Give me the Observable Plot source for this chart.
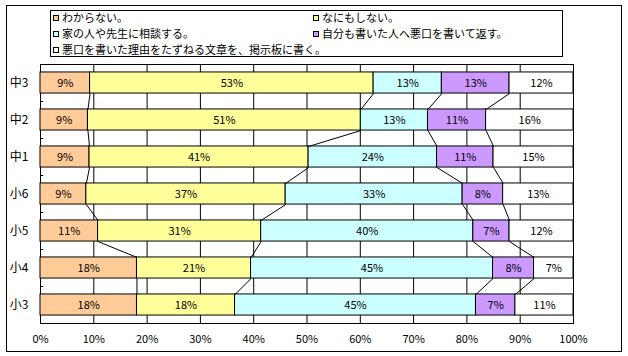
<!DOCTYPE html>
<html><head><meta charset="utf-8">
<script src="https://cdn.jsdelivr.net/npm/d3@7"></script>
<script src="https://cdn.jsdelivr.net/npm/@observablehq/plot@0.6"></script>
<style>
body{margin:0;background:#fff;font-family:"Noto Sans CJK JP",sans-serif;}
#wrap{position:relative;width:628px;height:356px;overflow:hidden;}
#wrap svg{position:absolute;left:0;top:0;}
#outer{position:absolute;left:6px;top:5px;width:614px;height:345px;border:1px solid #000;pointer-events:none;}
#legend{position:absolute;left:50px;top:10px;width:511px;height:45px;border:1px solid #000;background:#fff;font-size:11px;color:#000;}
.item{position:absolute;display:flex;align-items:center;white-space:nowrap;height:14px;line-height:14px;}
.sw{width:4px;height:4px;border:1px solid #000;margin-right:3px;margin-top:2px;flex:none;}
</style></head>
<body>
<div id="wrap"><div id="legend"></div><div id="outer"></div></div>
<script>
const categories = ["中3", "中2", "中1", "小6", "小5", "小4", "小3"];
const seriesNames = [
  "わからない。",
  "なにもしない。",
  "家の人や先生に相談する。",
  "自分も書いた人へ悪口を書いて返す。",
  "悪口を書いた理由をたずねる文章を、掲示板に書く。"
];
const wakaranai = [9.3, 8.9, 9.2, 8.6, 10.8, 18.1, 18.1];
const nanimoShinai = [53.2, 51.2, 41.1, 37.4, 30.6, 21.4, 18.4];
const soudan = [12.8, 12.6, 24.1, 33.2, 39.8, 45.4, 45.2];
const kakiKaesu = [12.7, 10.9, 10.6, 7.6, 6.8, 7.7, 7.4];
const tazuneru = [12.0, 16.4, 15.0, 13.2, 12.0, 7.4, 10.9];
const colors = ["#FFCC99", "#FFFF99", "#CCFFFF", "#CC99FF", "#FFFFFF"];
const xTicks = [0, 10, 20, 30, 40, 50, 60, 70, 80, 90, 100];

const seriesValues = [wakaranai, nanimoShinai, soudan, kakiKaesu, tazuneru];
const HB = 0.285;
const rows = [];
categories.forEach((c, i) => {
  let acc = 0;
  seriesValues.forEach((vals, k) => {
    const v = vals[i];
    rows.push({i, cat: c, k, series: seriesNames[k], value: v, x1: acc, x2: acc + v});
    acc += v;
  });
});
const links = [];
for (let i = 0; i < categories.length - 1; i++) {
  for (let k = 0; k < seriesNames.length - 1; k++) {
    const a = rows.find(r => r.i === i && r.k === k);
    const b = rows.find(r => r.i === i + 1 && r.k === k);
    links.push({x1: a.x2, y1: i + HB, x2: b.x2, y2: i + 1 - HB});
  }
}

const chart = Plot.plot({
  width: 628, height: 356,
  marginLeft: 40, marginRight: 55, marginTop: 64, marginBottom: 33,
  style: {fontFamily: '"Noto Sans CJK JP", sans-serif', fontSize: "11px", color: "#000", background: "transparent", overflow: "visible"},
  x: {domain: [0, 100]},
  y: {domain: [-0.5, categories.length - 0.5], reverse: true},
  color: {domain: seriesNames, range: colors},
  marks: [
    Plot.gridX(xTicks, {stroke: "#000", strokeOpacity: 1}),
    Plot.ruleY(d3.range(categories.length - 1).map(i => i + 0.5), {x1: 0, x2: 0.6, stroke: "#000"}),
    Plot.frame({stroke: "#000"}),
    Plot.rectX(rows, {x1: "x1", x2: "x2", y1: d => d.i - HB, y2: d => d.i + HB, fill: "series", stroke: "#000", strokeWidth: 1}),
    Plot.link(links, {x1: "x1", y1: "y1", x2: "x2", y2: "y2", stroke: "#000", strokeWidth: 1}),
    Plot.text(rows, {x: d => (d.x1 + d.x2) / 2, y: "i", text: d => Math.round(d.value) + "%", fill: "#000", letterSpacing: "0.5px"}),
    Plot.axisX({ticks: xTicks, tickFormat: d => d + "%", tickSize: 0, tickPadding: 12, label: null, letterSpacing: "0.5px"}),
    Plot.axisY({ticks: d3.range(categories.length), tickFormat: i => categories[i], tickSize: 0, tickPadding: 12, label: null, fontSize: 12})
  ]
});
document.getElementById("wrap").prepend(chart);

const legend = document.getElementById("legend");
const pos = [[2, 0], [262, 0], [2, 1], [262, 1], [2, 2]];
seriesNames.forEach((name, k) => {
  const it = document.createElement("div");
  it.className = "item";
  it.style.left = pos[k][0] + "px";
  it.style.top = (-1 + pos[k][1] * 16.2) + "px";
  const sw = document.createElement("span");
  sw.className = "sw";
  sw.style.background = colors[k];
  const t = document.createElement("span");
  t.textContent = name;
  it.append(sw, t);
  legend.append(it);
});
</script>
</body></html>
